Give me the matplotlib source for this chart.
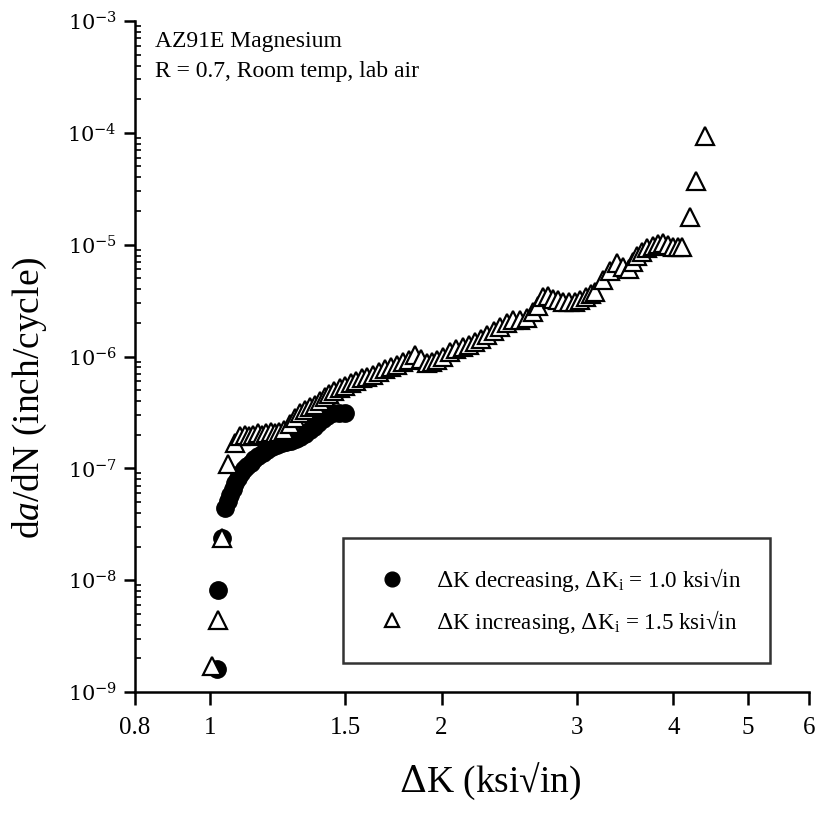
import numpy as np
import matplotlib
matplotlib.use("Agg")
import matplotlib.pyplot as plt
from matplotlib.ticker import FixedLocator, LogLocator, NullFormatter, FuncFormatter, NullLocator

plt.rcParams['font.family'] = ['Liberation Serif', 'DejaVu Serif']
plt.rcParams['mathtext.fontset'] = 'custom'
plt.rcParams['mathtext.rm'] = 'DejaVu Serif'
plt.rcParams['mathtext.it'] = 'Liberation Serif:italic'
plt.rcParams['mathtext.sf'] = 'Liberation Serif'

# dK decreasing, dKi = 1.0
dec_dk = [1.022, 1.025, 1.038, 1.047, 1.055, 1.063, 1.071, 1.079, 1.088, 1.097,
          1.107, 1.118, 1.130, 1.143, 1.157, 1.172, 1.188, 1.205, 1.222, 1.240,
          1.258, 1.276, 1.294, 1.312, 1.330, 1.348, 1.366, 1.384, 1.402, 1.422,
          1.444, 1.470, 1.500]
dec_dadn = [1.6e-9, 8.1e-9, 2.4e-8, 4.4e-8, 5.1e-8, 5.8e-8, 6.6e-8, 7.4e-8, 8.2e-8, 9.0e-8,
            9.8e-8, 1.05e-7, 1.12e-7, 1.2e-7, 1.28e-7, 1.37e-7, 1.46e-7, 1.55e-7, 1.63e-7, 1.68e-7,
            1.72e-7, 1.77e-7, 1.83e-7, 1.92e-7, 2.03e-7, 2.18e-7, 2.35e-7, 2.55e-7, 2.75e-7, 2.95e-7,
            3.1e-7, 3.15e-7, 3.1e-7]

# dK increasing, dKi = 1.5
inc_dk = [1.007, 1.025, 1.038, 1.056, 1.079, 1.095, 1.110, 1.125, 1.140, 1.155,
          1.170, 1.185, 1.200, 1.215, 1.232, 1.250, 1.270, 1.290, 1.310, 1.330,
          1.350, 1.370, 1.390, 1.410, 1.430, 1.450, 1.475, 1.500, 1.525, 1.550,
          1.575, 1.600, 1.630, 1.660, 1.690, 1.720, 1.750, 1.780, 1.815, 1.848,
          1.880, 1.915, 1.945, 1.973, 2.010, 2.052, 2.090, 2.130, 2.170, 2.210,
          2.250, 2.292, 2.340, 2.382, 2.430, 2.476, 2.530, 2.580, 2.630, 2.665,
          2.710, 2.750, 2.790, 2.830, 2.880, 2.930, 2.980, 3.030, 3.080, 3.130,
          3.165, 3.240, 3.310, 3.380, 3.440, 3.500, 3.545, 3.590, 3.645, 3.700,
          3.760, 3.820, 3.880, 3.940, 4.000, 4.060, 4.110, 4.210, 4.280, 4.400]
inc_dadn = [1.7e-9, 4.4e-9, 2.4e-8, 1.1e-7, 1.7e-7, 1.95e-7, 2.0e-7, 1.95e-7, 2.0e-7, 2.05e-7,
            2.0e-7, 2.05e-7, 2.1e-7, 2.05e-7, 2.1e-7, 2.2e-7, 2.5e-7, 2.8e-7, 3.1e-7, 3.3e-7,
            3.5e-7, 3.7e-7, 4.0e-7, 4.3e-7, 4.6e-7, 4.9e-7, 5.2e-7, 5.5e-7, 5.8e-7, 6.1e-7,
            6.4e-7, 6.6e-7, 6.9e-7, 7.3e-7, 7.7e-7, 8.0e-7, 8.4e-7, 8.9e-7, 9.4e-7, 1.04e-6,
            9.5e-7, 8.8e-7, 9.0e-7, 9.4e-7, 1.0e-6, 1.1e-6, 1.16e-6, 1.22e-6, 1.28e-6, 1.34e-6,
            1.42e-6, 1.55e-6, 1.7e-6, 1.85e-6, 2.0e-6, 2.1e-6, 2.1e-6, 2.2e-6, 2.5e-6, 2.8e-6,
            3.4e-6, 3.5e-6, 3.3e-6, 3.2e-6, 3.1e-6, 3.05e-6, 3.1e-6, 3.2e-6, 3.4e-6, 3.6e-6,
            3.8e-6, 4.8e-6, 5.8e-6, 6.9e-6, 6.3e-6, 6.1e-6, 7.0e-6, 8.0e-6, 8.6e-6, 9.3e-6,
            9.8e-6, 1.01e-5, 1.03e-5, 1.0e-5, 9.6e-6, 9.5e-6, 9.5e-6, 1.77e-5, 3.7e-5, 9.4e-5]

xticks = [0.8, 1, 1.5, 2, 3, 4, 5, 6]
xticklabels = ['0.8', '1', '1.5', '2', '3', '4', '5', '6']

fig = plt.figure(figsize=(8.17, 8.17), dpi=100)
# axes: x from 135 to 809 px, y from 21 to 692 px
ax = fig.add_axes([135/817, (817-692)/817, 674/817, 671/817])

ax.set_xscale('log')
ax.set_yscale('log')
ax.set_xlim(0.8, 6)
ax.set_ylim(1e-9, 1e-3)

ax.plot(dec_dk, dec_dadn, linestyle='none', marker='o', markersize=12.5,
        markerfacecolor='black', markeredgecolor='black', clip_on=False,
        label=r'$\Delta$K decreasing, $\Delta$K$_{\mathsf{i}}$ = 1.0 ksi√in')
ax.plot(inc_dk, inc_dadn, linestyle='none', marker='^', markersize=12.5,
        markerfacecolor='white', markeredgecolor='black', markeredgewidth=1.6,
        clip_on=False,
        label=r'$\Delta$K increasing, $\Delta$K$_{\mathsf{i}}$ = 1.5 ksi√in')

for s in ['top', 'right']:
    ax.spines[s].set_visible(False)
for s in ['left', 'bottom']:
    ax.spines[s].set_linewidth(1.8)

ax.xaxis.set_major_locator(FixedLocator(xticks))
ax.xaxis.set_major_formatter(FuncFormatter(lambda v, p: xticklabels[xticks.index(v)] if v in xticks else ''))
ax.xaxis.set_minor_locator(NullLocator())
ax.yaxis.set_major_locator(LogLocator(base=10, numticks=20))
ax.yaxis.set_minor_locator(LogLocator(base=10, subs=np.arange(2, 10), numticks=20))
ax.yaxis.set_minor_formatter(NullFormatter())
ax.yaxis.set_major_formatter(FuncFormatter(lambda v, p: r'$10^{%d}$' % int(round(np.log10(v)))))

ax.tick_params(axis='x', which='major', direction='out', length=9, width=1.8,
               labelsize=18, pad=9)
ax.tick_params(axis='y', which='major', direction='out', length=8, width=1.8,
               labelsize=15, pad=5)
ax.tick_params(axis='y', which='minor', direction='in', length=4, width=1.2)

fig.text(490/817, 1 - 781/817, r'$\Delta$K (ksi√in)', fontsize=27, ha='center', va='center')
fig.text(30/817, 1 - 398/817, r'd$\mathit{a}$/dN (inch/cycle)', fontsize=27,
         ha='center', va='center', rotation=90)

fig.text(155/817, 1 - 42/817, 'AZ91E Magnesium', fontsize=17, ha='left', va='center')
fig.text(155/817, 1 - 72/817, 'R = 0.7, Room temp, lab air', fontsize=17,
         ha='left', va='center')

leg = ax.legend(loc='upper left', bbox_to_anchor=(343/817, (817-538)/817, 427/817, 0),
                bbox_transform=fig.transFigure, mode='expand', fontsize=16.6,
                frameon=True, fancybox=False, edgecolor='black', borderpad=1.2,
                labelspacing=0.6, handlelength=1.85, handletextpad=1.0,
                borderaxespad=0, markerscale=0.85)
leg.get_frame().set_linewidth(1.8)

fig.savefig('out.png', dpi=100)
